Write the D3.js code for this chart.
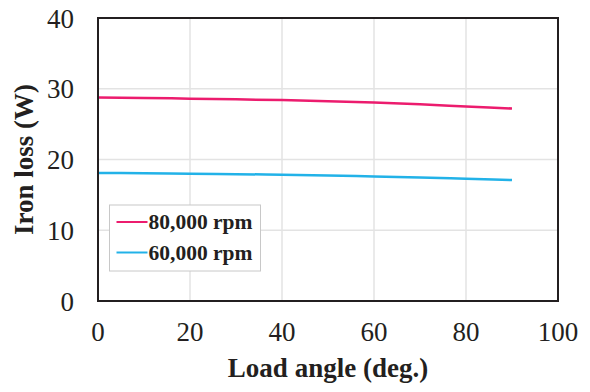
<!DOCTYPE html>
<html>
<head>
<meta charset="utf-8">
<script src="https://cdn.jsdelivr.net/npm/d3@7"></script>
<style>
  body { margin: 0; background: #fff; }
  text { font-family: "Liberation Serif", "Times New Roman", serif; fill: #231f20; }
</style>
</head>
<body>
<div id="chart"></div>
<script>
const angles = [0, 10, 20, 30, 40, 50, 60, 70, 80, 90];
const loss80k = [28.75, 28.7, 28.6, 28.5, 28.4, 28.25, 28.05, 27.8, 27.5, 27.2];
const loss60k = [18.1, 18.05, 18.0, 17.93, 17.85, 17.75, 17.6, 17.45, 17.28, 17.1];
const seriesNames = ['80,000 rpm', '60,000 rpm'];
const seriesColors = ['#ec1c6e', '#22b2e8'];
const xTicks = [0, 20, 40, 60, 80, 100];
const yTicks = [0, 10, 20, 30, 40];

const width = 590;
const height = 392;
const margin = { left: 98, right: 32, top: 18, bottom: 91 };

const svg = d3.select('#chart')
  .append('svg')
  .attr('width', width)
  .attr('height', height)

const x = d3.scaleLinear()
  .domain([0, 100])
  .range([margin.left, width - margin.right]);

const y = d3.scaleLinear()
  .domain([0, 40])
  .range([height - margin.bottom, margin.top]);

// grid
svg.append('g')
  .selectAll('line')
  .data(yTicks.slice(1, -1))
  .join('line')
  .attr('x1', x(0)).attr('x2', x(100))
  .attr('y1', d => y(d)).attr('y2', d => y(d))
  .attr('stroke', '#e3e3e3')
  .attr('stroke-width', 1.5)

svg.append('g')
  .selectAll('line')
  .data(xTicks.slice(1, -1))
  .join('line')
  .attr('x1', d => x(d)).attr('x2', d => x(d))
  .attr('y1', y(0)).attr('y2', y(40))
  .attr('stroke', '#e3e3e3')
  .attr('stroke-width', 1.5)

// tick labels
svg.append('g')
  .selectAll('text')
  .data(xTicks)
  .join('text')
  .attr('x', d => x(d))
  .attr('y', y(0) + 40)
  .attr('text-anchor', 'middle')
  .style('font-size', '27px')
  .text(d => d)

svg.append('g')
  .selectAll('text')
  .data(yTicks)
  .join('text')
  .attr('x', 74)
  .attr('y', d => y(d) + 9.5)
  .attr('text-anchor', 'end')
  .style('font-size', '27px')
  .text(d => d)

// lines
const line = d3.line()
  .x((d, i) => x(angles[i]))
  .y(d => y(d))
  .curve(d3.curveMonotoneX)

const series = [loss80k, loss60k];
svg.append('g')
  .selectAll('path')
  .data(series)
  .join('path')
  .attr('d', d => line(d))
  .attr('fill', 'none')
  .attr('stroke', (d, i) => seriesColors[i])
  .attr('stroke-width', 2.5)

// frame
svg.append('rect')
  .attr('x', x(0))
  .attr('y', y(40))
  .attr('width', x(100) - x(0))
  .attr('height', y(0) - y(40))
  .attr('fill', 'none')
  .attr('stroke', '#231f20')
  .attr('stroke-width', 2)

// axis titles
svg.append('text')
  .attr('x', (x(0) + x(100)) / 2)
  .attr('y', 377)
  .attr('text-anchor', 'middle')
  .style('font-size', '27px')
  .style('font-weight', 'bold')
  .text('Load angle (deg.)')

svg.append('text')
  .attr('transform', `translate(33,${(y(0) + y(40)) / 2}) rotate(-90)`)
  .attr('text-anchor', 'middle')
  .style('font-size', '27px')
  .style('font-weight', 'bold')
  .text('Iron loss (W)')

// legend
const legend = svg.append('g')
  .attr('transform', 'translate(109.5,205)')

legend.append('rect')
  .attr('width', 151)
  .attr('height', 66)
  .attr('fill', '#fff')
  .attr('stroke', '#c8c8c8')
  .attr('stroke-width', 1)

const item = legend.selectAll('g')
  .data(seriesNames)
  .join('g')
  .attr('transform', (d, i) => `translate(0,${17 + i * 30.5})`)

item.append('line')
  .attr('x1', 7).attr('x2', 38)
  .attr('stroke', (d, i) => seriesColors[i])
  .attr('stroke-width', 2)

item.append('text')
  .attr('x', 39)
  .attr('y', 7)
  .style('font-size', '21.5px')
  .style('font-weight', 'bold')
  .text(d => d)
</script>
</body>
</html>
